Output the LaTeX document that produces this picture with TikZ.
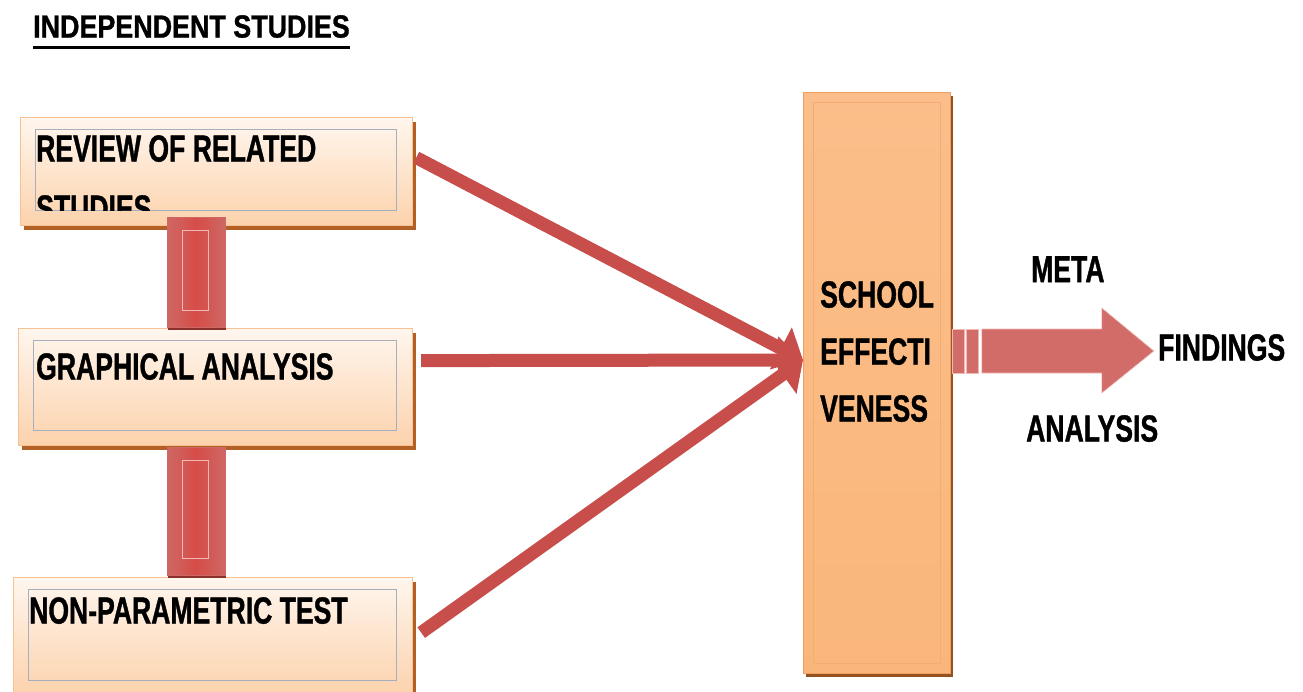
\documentclass[tikz,border=0pt]{standalone}
\usepackage{fontspec}
\newfontfamily\narrowbf{Liberation Sans Bold}[FakeStretch=0.705,FakeBold=1]
\newfontfamily\titlebf{Liberation Sans Bold}[FakeStretch=0.84,FakeBold=1]
\usetikzlibrary{arrows.meta,shadows}
\definecolor{peachtop}{RGB}{255,246,238}
\definecolor{peachbot}{RGB}{252,210,172}
\definecolor{peachline}{RGB}{249,192,145}
\definecolor{boxshade}{RGB}{178,96,38}
\definecolor{innerline}{RGB}{165,175,190}
\definecolor{efftop}{RGB}{251,190,138}
\definecolor{effbot}{RGB}{250,182,122}
\definecolor{effline}{RGB}{238,160,100}
\definecolor{effshade}{RGB}{150,82,30}
\definecolor{feedred}{RGB}{200,78,75}
\definecolor{barside}{RGB}{206,104,100}
\definecolor{barmid}{RGB}{214,76,72}
\definecolor{barshade}{RGB}{140,48,45}
\definecolor{barinner}{RGB}{240,185,180}
\definecolor{outedge}{RGB}{210,108,104}
\definecolor{outmid}{RGB}{190,66,62}

\begin{document}
\begin{tikzpicture}[x=1pt,y=-1pt,
  srcbox/.style={draw=peachline,line width=1.2pt,top color=peachtop,bottom color=peachbot,
    inner sep=0pt,anchor=north west,
    drop shadow={shadow xshift=3pt,shadow yshift=-4pt,fill=boxshade,opacity=1}},
  srctext/.style={font=\narrowbf\fontsize{37.7}{60}\selectfont,align=left,
    inner sep=0pt,anchor=north west},
  linkbar/.style={draw=barside,line width=.6pt,left color=barside,right color=barside,
    middle color=barmid,inner sep=0pt,anchor=north west,
    drop shadow={shadow xshift=1pt,shadow yshift=-3pt,fill=barshade,opacity=1}},
  effbox/.style={draw=effline,line width=.8pt,top color=efftop,bottom color=effbot,
    inner sep=0pt,anchor=north west,
    drop shadow={shadow xshift=3pt,shadow yshift=-4pt,fill=effshade,opacity=1}},
  feed/.style={draw=feedred,line width=13pt,-{Triangle[length=25pt,width=46pt]}}]
 \useasboundingbox[fill=white] (0,0) rectangle (1303,691);

 % title
 \node[font=\titlebf\fontsize{32}{38}\selectfont,inner sep=0pt,anchor=north west]
   (title) at (33,15) {INDEPENDENT STUDIES};
 \draw[line width=3pt] ([yshift=-9pt]title.south west) -- ([yshift=-9pt]title.south east);

 % independent studies
 \foreach \name/\x/\y/\w/\h/\tx/\ty/\txt in {
   rev/20/117/392/108/36/135/{REVIEW OF RELATED\\STUDIES},
   graph/18/328/394/117/36/353/{GRAPHICAL ANALYSIS},
   nonpar/13/577/399/118/29/597/{NON-PARAMETRIC TEST}} {
  \node[srcbox,minimum width=\w pt,minimum height=\h pt] (\name) at (\x,\y) {};
  \draw[innerline,line width=.8pt] ([shift={(15pt,-12pt)}]\name.north west)
    rectangle ([shift={(-17pt,16pt)}]\name.south east);
  \begin{scope}
   \clip ([shift={(15pt,-12pt)}]\name.north west) rectangle ([shift={(-17pt,16pt)}]\name.south east);
   \node[srctext] (\name-txt) at (\tx,\ty) {\txt};
  \end{scope}
 }

 % links between the studies
 \foreach \name/\y/\h in {link1/217/110,link2/447/128} {
  \node[linkbar,minimum width=58pt,minimum height=\h pt] (\name) at (167,\y) {};
  \draw[barinner,line width=.7pt] ([shift={(15pt,-13pt)}]\name.north west)
    rectangle ([shift={(-17pt,17pt)}]\name.south east);
 }

 % school effectiveness
 \node[effbox,minimum width=147pt,minimum height=581pt] (school) at (803,92) {};
 \draw[effline!60!efftop,line width=.8pt] ([shift={(10pt,-10pt)}]school.north west)
   rectangle ([shift={(-10pt,10pt)}]school.south east);
 \node[srctext,font=\narrowbf\fontsize{37.7}{57}\selectfont]
   (school-txt) at (820,281) {SCHOOL\\EFFECTI\\VENESS};
 \coordinate (hub) at (school.west |- 0,360);

 \draw[feed] ([shift={(3pt,14pt)}]rev.east) -- (hub);
 \draw[feed] ([shift={(8pt,26.5pt)}]graph.east) -- (hub);
 \draw[feed] ([shift={(8pt,4pt)}]nonpar.east) -- (hub);

 % meta analysis arrow
 \coordinate (out) at (school.east |- 0,351);
 \shade[top color=outedge,middle color=outmid,bottom color=outedge,draw=barinner,line width=.6pt]
   ([shift={(31pt,22pt)}]out) -- ++(120,0) -- ++(0,-21) -- ++(52,43)
   -- ++(-52,42) -- ++(0,-20) -- ++(-120,0) -- cycle;
 \foreach \dx in {0,14}
  \shade[top color=outedge,middle color=outmid,bottom color=outedge,draw=barinner,line width=.6pt]
   ([shift={(\dx pt+1pt,22pt)}]out) rectangle ++(12,44);

 \node[srctext] (meta) at (1031,256) {META};
 \node[srctext] (findings) at (1158,334) {FINDINGS};
 \node[srctext] (analysis) at (1026,415) {ANALYSIS};
\end{tikzpicture}
\end{document}
